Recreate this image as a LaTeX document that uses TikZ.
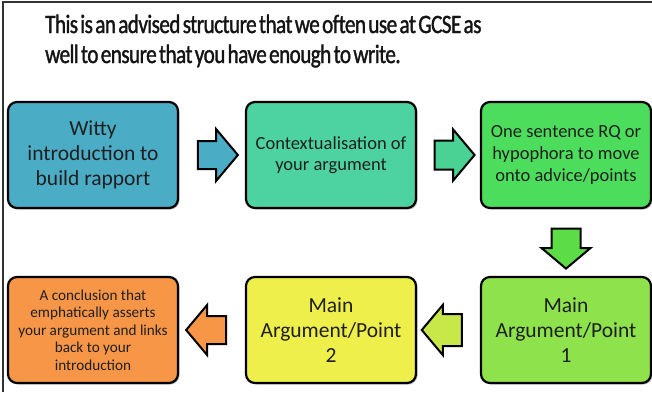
\documentclass[tikz,border=0pt]{standalone}
\usepackage{fontspec}
\setmainfont{Carlito}
\newfontfamily\ttlfont[FakeStretch=0.8, FakeBold=1.3, WordSpace=0.55, LetterSpace=-2.2]{Carlito}
\usetikzlibrary{shapes.arrows,shadows,calc}
\definecolor{cblue}{HTML}{4BACC6}
\definecolor{cteal}{HTML}{4DD3A2}
\definecolor{cgreen}{HTML}{4DDD5D}
\definecolor{clime}{HTML}{8EE34C}
\definecolor{cyel}{HTML}{EEEF4B}
\definecolor{corange}{HTML}{F79646}
\definecolor{ateal}{HTML}{4AD294}
\definecolor{agreen}{HTML}{5CDD48}
\definecolor{alime}{HTML}{C8E84A}
\tikzset{
  box/.style={draw=black, line width=2.2pt, rounded corners=9pt,
    minimum width=170pt, minimum height=106pt, align=center,
    text=black!88, inner sep=4pt,
    drop shadow={shadow xshift=1.5pt, shadow yshift=-1.5pt, opacity=0.45}},
  blk/.style={single arrow, draw=black, line width=2pt, minimum height=40pt,
    single arrow tip angle=100, inner xsep=0pt},
  ttl/.style={anchor=base west, inner sep=0pt, font=\ttlfont\fontsize{26.5}{30}\selectfont, text=black!92}
}
\begin{document}
\begin{tikzpicture}[x=1pt,y=-1pt]
\useasboundingbox (0,0) rectangle (652,392);
\fill[white] (0,0) rectangle (652,392);
\draw[line width=1.3pt, black!80] (3,392) -- (3,2) -- (652,2);
\node[ttl] (t1) at (45,33) {This is an advised structure that we often use at GCSE as};
\node[ttl] (t2) at (45,63) {well to ensure that you have enough to write.};

\node[box, fill=cblue, font=\fontsize{21.5}{25}\selectfont] (b1) at (93,155) {Witty\\introduction to\\build rapport};
\node[box, fill=cteal, font=\fontsize{18.5}{21.5}\selectfont] (b2) at (331,155) {Contextualisation of\\your argument};
\node[box, fill=cgreen, font=\fontsize{18.5}{22}\selectfont] (b3) at (566,155) {One sentence RQ or\\hypophora to move\\onto advice/points};
\node[box, fill=clime, font=\fontsize{21.5}{25}\selectfont] (m1) at (566,330) {Main\\Argument/Point\\1};
\node[box, fill=cyel, font=\fontsize{21.5}{25}\selectfont] (m2) at (331,330) {Main\\Argument/Point\\2};
\node[box, fill=corange, font=\fontsize{15.2}{17.5}\selectfont] (c) at (93,330) {A conclusion that\\emphatically asserts\\your argument and links\\back to your\\introduction};

\node[blk, fill=cblue, inner ysep=13pt, single arrow head extend=12pt] (a1) at ($(b1.east)!0.5!(b2.west)$) {};
\node[blk, fill=ateal, inner ysep=13.5pt, single arrow head extend=11pt] (a2) at ($(b2.east)!0.5!(b3.west)$) {};
\node[blk, fill=agreen, inner ysep=13.5pt, single arrow head extend=10pt, rotate=-90] (a3) at ($(b3.south)!0.5!(m1.north)$) {};
\node[blk, fill=alime, inner ysep=15pt, single arrow head extend=9pt, shape border rotate=180] (a4) at ($(m1.west)!0.5!(m2.east)$) {};
\node[blk, fill=corange, inner ysep=13pt, single arrow head extend=11pt, shape border rotate=180] (a5) at ($(m2.west)!0.5!(c.east)$) {};
\end{tikzpicture}
\end{document}
